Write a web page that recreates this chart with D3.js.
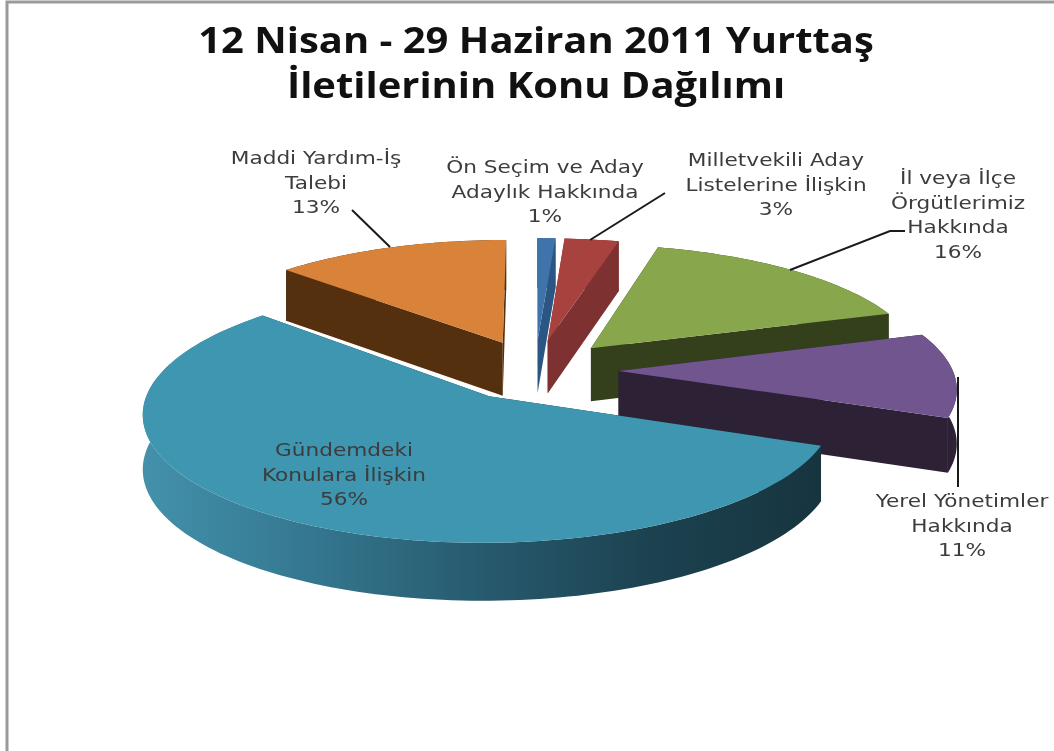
<!DOCTYPE html>
<html><head><meta charset="utf-8">
<script src="https://cdn.jsdelivr.net/npm/d3@7"></script>
<style>html,body{margin:0;padding:0;background:#fff;overflow:hidden}svg{display:block;filter:blur(0.6px)}</style>
</head><body><div id="chart"></div>
<script>
const titleLines = ["12 Nisan - 29 Haziran 2011 Yurttaş", "İletilerinin Konu Dağılımı"];
const categories = ["Ön Seçim ve Aday Adaylık Hakkında","Milletvekili Aday Listelerine İlişkin","İl veya İlçe Örgütlerimiz Hakkında","Yerel Yönetimler Hakkında","Gündemdeki Konulara İlişkin","Maddi Yardım-İş Talebi"];
const values = [1,3,16,11,56,13];
const topColors = ["#3f74ab","#a8423f","#88a64b","#70558f","#3e96b0","#d9833a"];
const wallColors = ["#2b5583","#7d3130","#343f1c","#2d2136","url(#tealWall)","#55300f"];
const labelLines = [
 ["Ön Seçim ve Aday","Adaylık Hakkında","1%"],
 ["Milletvekili Aday","Listelerine İlişkin","3%"],
 ["İl veya İlçe","Örgütlerimiz","Hakkında","16%"],
 ["Yerel Yönetimler","Hakkında","11%"],
 ["Gündemdeki","Konulara İlişkin","56%"],
 ["Maddi Yardım-İş","Talebi","13%"]];
const labelPos = [[545,173],[776,166],[958,184],[962,507],[344,456],[316,164]];
const leaders = [null,[[590,240],[665,193]],[[790,270],[890,231],[905,231]],[[958,377],[958,487]],null,[[352,210],[390,247]]];
const paintOrder = [0,1,5,2,3,4];

const W=1054,H=751;
const cx=535,cy=370,R=334,K=121.6,persp=0.122,explode=0.25,depth=53.5;
const svg=d3.select("#chart").append("svg").attr("width",W).attr("height",H);
const defs=svg.append("defs");
const g=defs.append("linearGradient").attr("id","tealWall").attr("x1",0).attr("x2",1).attr("y1",0).attr("y2",0);
[[0,"#4391ab"],[.25,"#34778f"],[.5,"#275a6e"],[.75,"#1c4250"],[1,"#17343f"]].forEach(s=>g.append("stop").attr("offset",s[0]).attr("stop-color",s[1]));

svg.append("path").attr("d",`M7,${H} V2 H${W}`).attr("fill","none").attr("stroke","#9a9a9a").attr("stroke-width",3);

const xS=d3.scaleLinear().domain([-1,1]).range([cx-R,cx+R]);
const yS=d3.scaleLinear().domain([-1,1]).range([cy+K,cy-K]);
const pie=d3.pie().sort(null).value(d=>d);
const arcs=pie(values);
const line=d3.line();
function proj(u,v,z){const s=1/(1+persp*v);return [xS(u*s),yS(v*s)+z*depth*Math.sqrt(s)];}
function disc(a,th,r){const m=(a.startAngle+a.endAngle)/2;
  return [explode*Math.sin(m)+r*Math.sin(th),explode*Math.cos(m)+r*Math.cos(th)];}

paintOrder.forEach(i=>{
  const a=arcs[i];
  const n=Math.max(4,Math.ceil((a.endAngle-a.startAngle)*40));
  const ths=d3.range(n+1).map(k=>a.startAngle+(a.endAngle-a.startAngle)*k/n);
  const rim=ths.map(t=>disc(a,t,1)), c=disc(a,0,0);
  const P=(p,z)=>proj(p[0],p[1],z);
  const gr=svg.append("g");
  [rim[0],rim[n]].forEach(e=>gr.append("path")
    .attr("d",line([P(c,0),P(e,0),P(e,1),P(c,1)])+"Z")
    .attr("fill",i===4?"#17343f":wallColors[i]));
  const outer=rim.map(p=>P(p,0)).concat(rim.slice().reverse().map(p=>P(p,1)));
  gr.append("path").attr("d",line(outer)+"Z").attr("fill",wallColors[i]);
  gr.append("path").attr("d",line([P(c,0)].concat(rim.map(p=>P(p,0))))+"Z").attr("fill",topColors[i]);
});

leaders.forEach(l=>{ if(l) svg.append("path").attr("d",line(l)).attr("fill","none").attr("stroke","#1a1a1a").attr("stroke-width",2);});

const t=svg.append("g").attr("font-family","'Open Sans'").attr("font-weight",700).attr("font-size",35).attr("text-anchor","middle").attr("fill","#111");
titleLines.forEach((s,i)=>t.append("text").attr("transform",`translate(536,${53+i*45}) scale(1.142,1)`).text(s));

const lg=svg.append("g").attr("font-family","'DejaVu Sans'").attr("font-size",18.5).attr("text-anchor","middle").attr("fill","#3c3c3c");
labelLines.forEach((ls,i)=>ls.forEach((s,j)=>lg.append("text").attr("transform",`translate(${labelPos[i][0]},${labelPos[i][1]+j*24.5}) scale(1.17,1)`).text(s)));
</script></body></html>
